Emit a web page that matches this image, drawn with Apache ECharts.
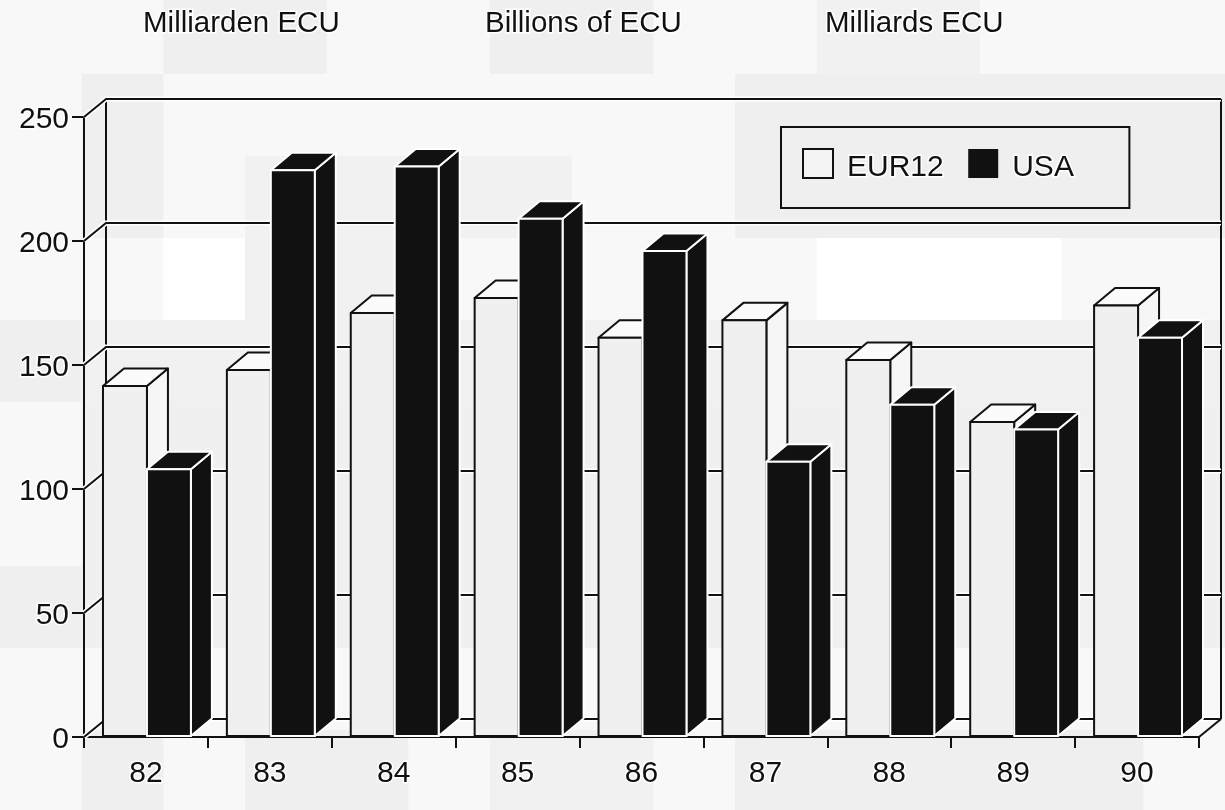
<!DOCTYPE html>
<html><head><meta charset="utf-8">
<style>html,body{margin:0;padding:0;background:#f8f8f8}#c{width:1225px;height:810px}</style>
<script src="https://cdn.jsdelivr.net/npm/echarts@6/dist/echarts.min.js"></script>
</head><body><div id="c"></div>
<script>
const categories = ['82','83','84','85','86','87','88','89','90'];
const eur12 = [141.5,148,171,177,161,168,152,127,174];
const usa = [108,228.5,230,209,196,111,134,124,161];
const yTicks = [0,50,100,150,200,250];
const titles = ['Milliarden ECU','Billions of ECU','Milliards ECU'];

// faint scan blocks of the reference background: [x col, y row, col span, row span, shade]
const scanBlocks = [
 [1,0,1,1,'#f8f8f8'],[2,0,2,1,'#efefef'],[6,0,2,1,'#efefef'],[10,0,2,1,'#f1f1f1'],
 [1,1,1,2,'#efefef'],[3,2,4,1,'#f1f1f1'],[9,1,6,2,'#efefef'],
 [2,3,1,1,'#ffffff'],[10,3,3,1,'#ffffff'],[3,3,2,1,'#f1f1f1'],
 [0,4,1,1,'#efefef'],[1,4,14,1,'#f1f1f1'],[1,5,14,3,'#f0f0f0'],[0,7,1,1,'#efefef'],
 [1,9,1,1,'#efefef'],[3,9,2,1,'#efefef'],[6,9,2,1,'#f1f1f1'],[9,9,5,1,'#efefef']
];

const DX = 22, DY = 18, INK = '#111111', FONT = 'Liberation Sans', LW = 2;
const halo = {textBorderColor:'#ffffff', textBorderWidth:3};
const labelFont = Object.assign({fontFamily:FONT,fontSize:30,color:INK},halo);

function wallItem(params, api){
  const cs = params.coordSys;
  const p = api.coord([0, api.value(1)]);
  const x0 = cs.x, y = p[1], x1 = cs.x + DX, y1 = y - DY, x2 = cs.x + cs.width + DX;
  const ls = {stroke:INK, lineWidth:LW, fill:null};
  const wh = {stroke:'#ffffff', lineWidth:5, fill:null};
  const pts = [[x0,y],[x1,y1],[x2,y1]];
  const ch = [
    {type:'polyline', shape:{points:pts}, style:wh},
    {type:'polyline', shape:{points:pts}, style:ls}
  ];
  if (params.dataIndex === 0) {
    const top = api.coord([0, yTicks[yTicks.length-1]])[1] - DY;
    ch.push({type:'line', shape:{x1:x1,y1:y1,x2:x1,y2:top}, style:ls});
    ch.push({type:'line', shape:{x1:x2,y1:y1,x2:x2,y2:top}, style:ls});
    ch.push({type:'line', shape:{x1:x2-DX,y1:y,x2:x2,y2:y1}, style:ls});
  }
  return {type:'group', children:ch};
}

function barRenderer(offsetRatio, front, top, side, edge){
  return function(params, api){
    const idx = api.value(0), v = api.value(1);
    const base = api.coord([idx, 0]), head = api.coord([idx, v]);
    const band = api.size([1,0])[0];
    const w = band * 44 / 124;
    const l = base[0] + band * offsetRatio, r = l + w, t = head[1], b = base[1] - 1;
    const dx = 21, dy = 17.5;
    const st = (fill)=>({fill:fill, stroke:edge, lineWidth:2, lineJoin:'round'});
    return {type:'group', children:[
      {type:'polygon', shape:{points:[[r,t],[r+dx,t-dy],[r+dx,b-dy],[r,b]]}, style:st(side)},
      {type:'polygon', shape:{points:[[l,t],[l+dx,t-dy],[r+dx,t-dy],[r,t]]}, style:st(top)},
      {type:'rect', shape:{x:l,y:t,width:w,height:b-t}, style:st(front)}
    ]};
  };
}

const option = {
  animation:false,
  backgroundColor:'transparent',
  graphic: scanBlocks.map(b=>({type:'rect', silent:true, z:-10,
    shape:{x:b[0]*81.67, y:b[1]===0?0:74+(b[1]-1)*82, width:b[2]*81.67, height:b[1]===0?74:b[3]*82},
    style:{fill:b[4]}})),
  title: titles.map((t,i)=>({text:t, left:[143,485,825][i], top:9, padding:0,
    textStyle:Object.assign({fontFamily:FONT,fontSize:29.5,fontWeight:'normal',color:INK},halo)})),
  legend:{
    left:781, top:127, orient:'horizontal', backgroundColor:'#efefef',
    borderColor:INK, borderWidth:LW, borderRadius:0,
    padding:[21,54,24,21], itemGap:23, itemWidth:30, itemHeight:29,
    formatter:'{t|{name}}',
    textStyle:{rich:{t:Object.assign({padding:[8,0,0,9]},labelFont)}},
    data:[
      {name:'EUR12', icon:'rect', itemStyle:{color:'#f4f4f4',borderColor:INK,borderWidth:LW}},
      {name:'USA', icon:'rect', itemStyle:{color:INK,borderColor:INK,borderWidth:0}}
    ]
  },
  grid:{left:84, right:26, top:117, bottom:73, containLabel:false},
  xAxis:{type:'category', data:categories, boundaryGap:true,
    axisLine:{lineStyle:{color:INK,width:LW}},
    axisTick:{show:true,alignWithLabel:false,length:11,lineStyle:{color:INK,width:LW}},
    axisLabel:Object.assign({margin:22},labelFont),
    splitLine:{show:false}},
  yAxis:{type:'value', min:0, max:250, interval:50,
    axisLine:{show:true,lineStyle:{color:INK,width:LW}},
    axisTick:{show:true,length:12,lineStyle:{color:INK,width:LW}},
    axisLabel:{margin:15,formatter:'{t|{value}}',rich:{t:Object.assign({padding:[6,0,0,0]},labelFont)}},
    splitLine:{show:false}},
  series:[
    {type:'custom', name:'wall', silent:true, z:1, clip:false, renderItem:wallItem,
     encode:{x:0,y:1}, data:yTicks.map(v=>[0,v])},
    {type:'custom', name:'EUR12', z:3, clip:false,
     renderItem:barRenderer(-43/124,'#f0f0f0','#fbfbfb','#f6f6f6',INK),
     encode:{x:0,y:1}, itemStyle:{color:'#f4f4f4'}, data:eur12.map((v,i)=>[i,v])},
    {type:'custom', name:'USA', z:4, clip:false,
     renderItem:barRenderer(1/124,INK,INK,INK,'#ffffff'),
     encode:{x:0,y:1}, itemStyle:{color:INK}, data:usa.map((v,i)=>[i,v])}
  ]
};
const chart = echarts.init(document.getElementById('c'),null,{renderer:'canvas'});
chart.setOption(option);
</script></body></html>
